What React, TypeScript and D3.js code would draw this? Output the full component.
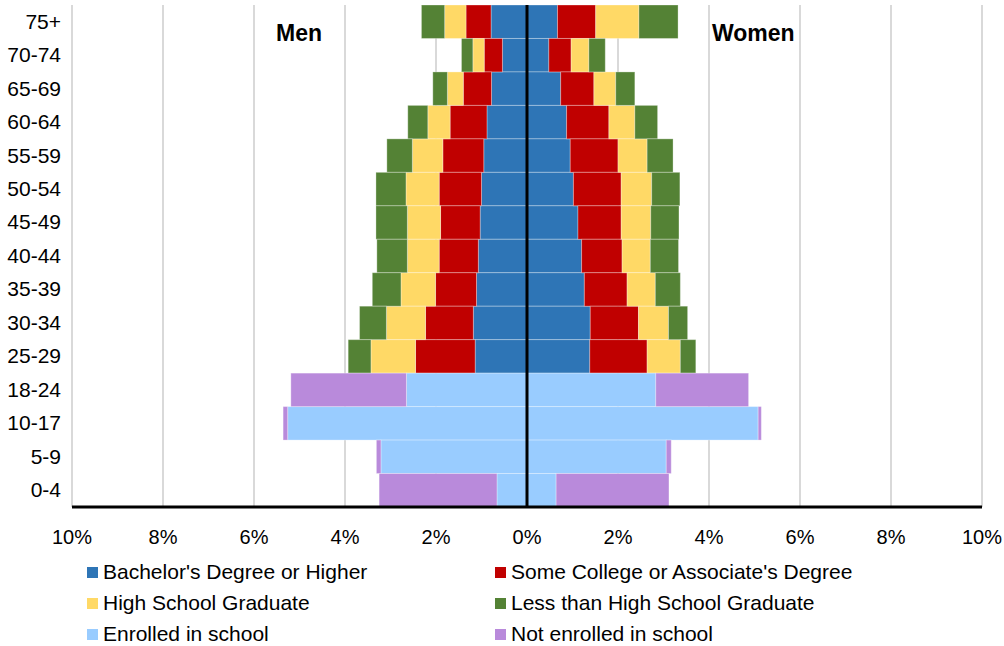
import React from "react";
import * as d3 from "d3";

const categories = ["75+","70-74","65-69","60-64","55-59","50-54","45-49","40-44","35-39","30-34","25-29","18-24","10-17","5-9","0-4"];
const seriesKeys = ["bachelor","someCollege","hs","lessHs","enrolled","notEnrolled"];
const seriesLabels = ["Bachelor's Degree or Higher","Some College or Associate's Degree","High School Graduate","Less than High School Graduate","Enrolled in school","Not enrolled in school"];
const seriesColors = ["#2E75B6","#C00000","#FFD966","#548235","#99CCFF","#B98ADB"];

// Men (percent of population)
const menBachelor = [0.79,0.54,0.78,0.88,0.95,1.00,1.03,1.07,1.11,1.18,1.14,0,0,0,0];
const menSomeCollege = [0.55,0.40,0.62,0.81,0.90,0.93,0.87,0.86,0.90,1.05,1.31,0,0,0,0];
const menHs = [0.47,0.25,0.35,0.49,0.67,0.73,0.73,0.70,0.76,0.86,0.98,0,0,0,0];
const menLessHs = [0.51,0.25,0.32,0.44,0.56,0.66,0.69,0.67,0.63,0.59,0.50,0,0,0,0];
const menEnrolled = [0,0,0,0,0,0,0,0,0,0,0,2.65,5.26,3.21,0.66];
const menNotEnrolled = [0,0,0,0,0,0,0,0,0,0,0,2.54,0.10,0.10,2.59];

// Women
const womenBachelor = [0.67,0.48,0.74,0.87,0.95,1.02,1.12,1.20,1.26,1.39,1.38,0,0,0,0];
const womenSomeCollege = [0.84,0.49,0.73,0.93,1.05,1.05,0.95,0.89,0.94,1.06,1.26,0,0,0,0];
const womenHs = [0.95,0.39,0.48,0.57,0.64,0.67,0.65,0.62,0.62,0.66,0.73,0,0,0,0];
const womenLessHs = [0.86,0.36,0.42,0.50,0.57,0.62,0.62,0.62,0.55,0.42,0.34,0,0,0,0];
const womenEnrolled = [0,0,0,0,0,0,0,0,0,0,0,2.83,5.08,3.06,0.64];
const womenNotEnrolled = [0,0,0,0,0,0,0,0,0,0,0,2.04,0.07,0.11,2.48];

const xTicks = [-10,-8,-6,-4,-2,0,2,4,6,8,10];

const FONT = "'Liberation Sans', Arial, Helvetica, sans-serif";

function buildRows(arrs: number[][]) {
  return categories.map((c, i) => {
    const row: any = { cat: c };
    seriesKeys.forEach((k, j) => (row[k] = arrs[j][i]));
    return row;
  });
}

export default function App() {
  const W = 1004, H = 646;
  const x = d3.scaleLinear().domain([-10, 10]).range([72, 982]);
  const y = d3.scaleBand<string>().domain(categories).range([5, 507]).padding(0);

  const menRows = buildRows([menBachelor, menSomeCollege, menHs, menLessHs, menEnrolled, menNotEnrolled]);
  const womenRows = buildRows([womenBachelor, womenSomeCollege, womenHs, womenLessHs, womenEnrolled, womenNotEnrolled]);
  const stack = d3.stack<any>().keys(seriesKeys);
  const menStack = stack(menRows);
  const womenStack = stack(womenRows);

  const bars: JSX.Element[] = [];
  menStack.forEach((s, si) => {
    s.forEach((d, di) => {
      if (d[1] - d[0] <= 0) return;
      const x0 = x(-d[1]), x1 = x(-d[0]);
      bars.push(
        <rect key={`m${si}-${di}`} x={x0} y={y(categories[di])} width={x1 - x0} height={y.bandwidth()}
          fill={seriesColors[si]} stroke="rgba(255,255,255,0.3)" strokeWidth={1} />
      );
    });
  });
  womenStack.forEach((s, si) => {
    s.forEach((d, di) => {
      if (d[1] - d[0] <= 0) return;
      const x0 = x(d[0]), x1 = x(d[1]);
      bars.push(
        <rect key={`w${si}-${di}`} x={x0} y={y(categories[di])} width={x1 - x0} height={y.bandwidth()}
          fill={seriesColors[si]} stroke="rgba(255,255,255,0.3)" strokeWidth={1} />
      );
    });
  });

  const legendPos = [
    [87, 567], [495, 567],
    [87, 598], [495, 598],
    [87, 629], [495, 629],
  ];

  return (
    <svg width={W} height={H} style={{ position: "absolute", left: 0, top: 0, background: "#fff" }} fontFamily={FONT}>
      <rect x={0} y={0} width={W} height={H} fill="#fff" />
      {xTicks.filter(t => t !== 0).map(t => (
        <line key={`g${t}`} x1={x(t)} x2={x(t)} y1={5} y2={507} stroke="#D9D9D9" strokeWidth={2} />
      ))}
      {bars}
      <line x1={x(0)} x2={x(0)} y1={5} y2={507} stroke="#000" strokeWidth={3} />
      <line x1={x(-10)} x2={x(10)} y1={507} y2={507} stroke="#000" strokeWidth={3} />
      {categories.map(c => (
        <text key={c} x={61} y={(y(c) as number) + y.bandwidth() / 2} dy="0.33em" textAnchor="end" fontSize={21} fill="#000">{c}</text>
      ))}
      {xTicks.map(t => (
        <text key={`t${t}`} x={x(t)} y={544} textAnchor="middle" fontSize={20} fill="#000">{Math.abs(t)}%</text>
      ))}
      <text x={276} y={41} fontSize={23} fontWeight="bold" fill="#000">Men</text>
      <text x={712} y={41} fontSize={23} fontWeight="bold" fill="#000">Women</text>
      {seriesLabels.map((l, i) => (
        <g key={l}>
          <rect x={legendPos[i][0]} y={legendPos[i][1]} width={11} height={11} fill={seriesColors[i]} />
          <text x={legendPos[i][0] + 16} y={legendPos[i][1] + 12} fontSize={21} fill="#000">{l}</text>
        </g>
      ))}
    </svg>
  );
}
